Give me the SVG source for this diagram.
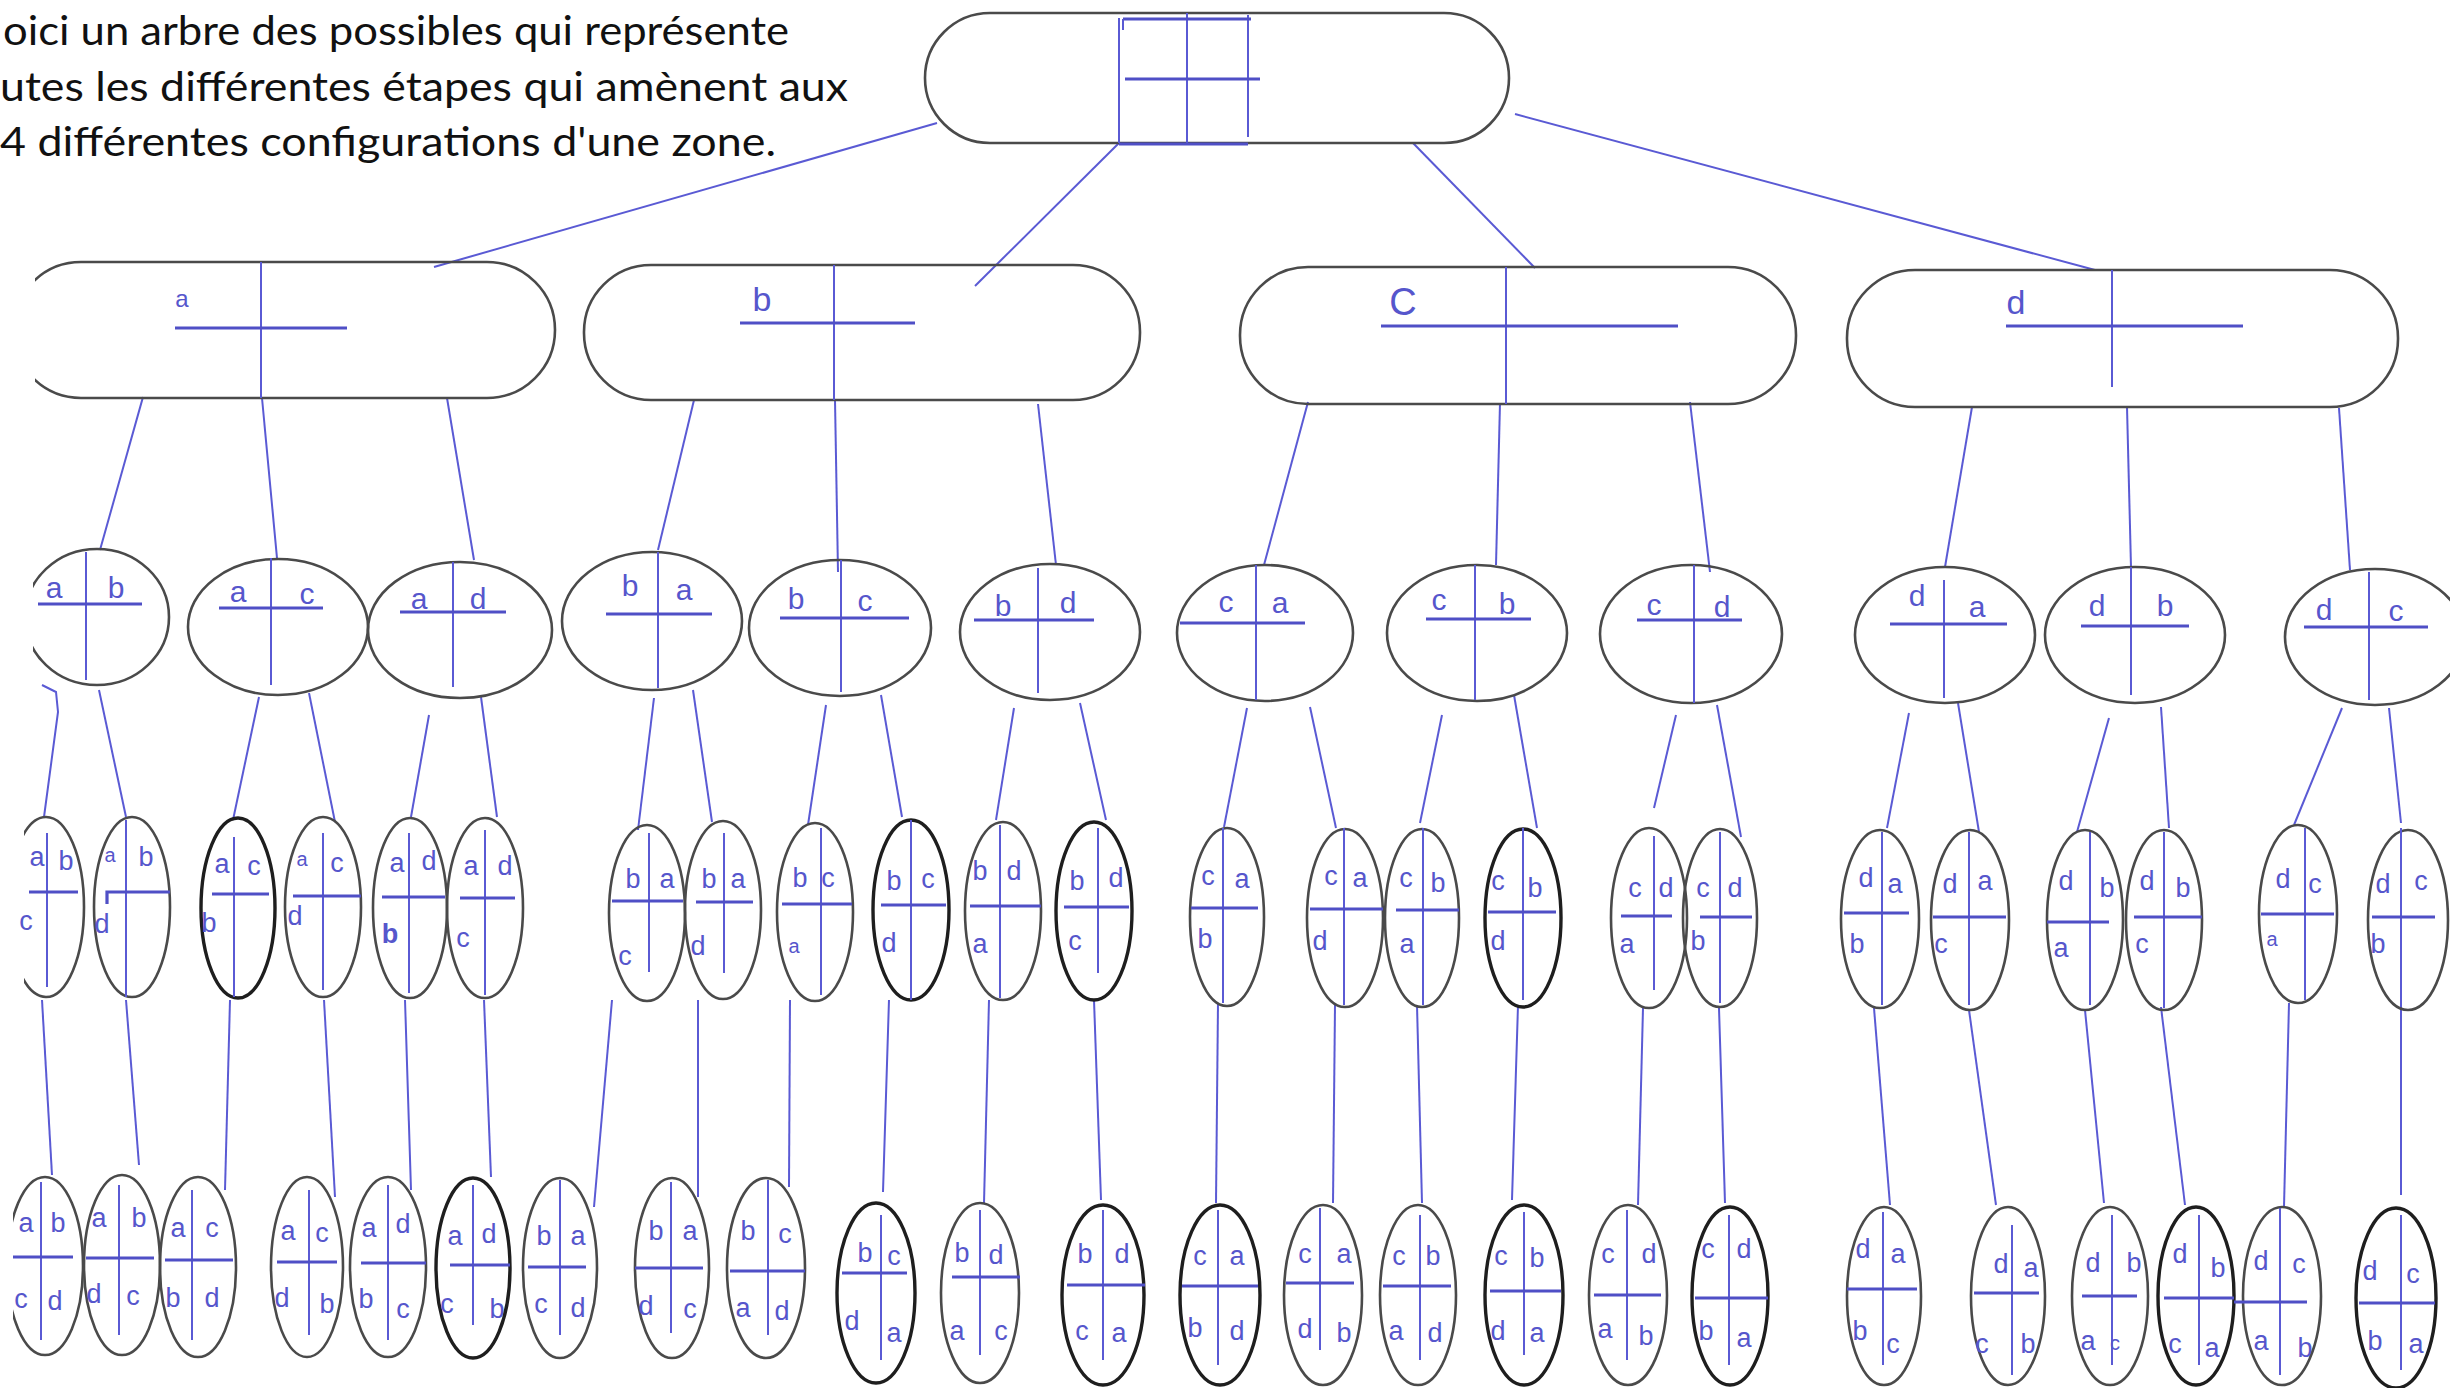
<svg xmlns="http://www.w3.org/2000/svg" width="2450" height="1388" viewBox="0 0 2450 1388">
<style>
.ol{fill:none;stroke:#4a4a4a;stroke-width:2.6}
.olk{fill:none;stroke:#1e1e1e;stroke-width:3.4}
.bl{fill:none;stroke:#5a5ad4;stroke-width:2}
.bh{fill:none;stroke:#4f4fc6;stroke-width:3.2}
#connectors line,#connectors polyline{stroke:#5a5ad4;stroke-width:2;fill:none}
.t{font-family:"Liberation Sans",Arial,sans-serif;fill:#5656cc;text-anchor:middle}
.t1{font-size:34px}
.t2{font-size:30px}
.t3{font-size:27px}
.hd{font-family:Lato,"Open Sans",sans-serif;font-size:40px;fill:#111}
</style>
<defs>
<clipPath id="clipA"><rect x="35" y="0" width="2415" height="1388"/></clipPath>
<clipPath id="clipB"><rect x="33" y="0" width="2415" height="1388"/></clipPath>
<clipPath id="clipC"><rect x="24" y="0" width="2415" height="1388"/></clipPath>
<clipPath id="clipD"><rect x="13" y="0" width="2415" height="1388"/></clipPath>
</defs>
<rect width="2450" height="1388" fill="#fff"/>

<g id="caption">
<text class="hd" x="3" y="45" textLength="786" lengthAdjust="spacingAndGlyphs">oici un arbre des possibles qui représente</text>
<text class="hd" x="0" y="101" textLength="848" lengthAdjust="spacingAndGlyphs">utes les différentes étapes qui amènent aux</text>
<text class="hd" x="0" y="156" textLength="776" lengthAdjust="spacingAndGlyphs">4 différentes configurations d'une zone.</text>
</g>

<g id="connectors">
<line x1="937" y1="123" x2="434" y2="267"/>
<line x1="1119" y1="143" x2="975" y2="286"/>
<line x1="1413" y1="143" x2="1535" y2="268"/>
<line x1="1515" y1="114" x2="2095" y2="270"/>

<line x1="143" y1="397" x2="100" y2="550"/>
<line x1="262" y1="398" x2="277" y2="558"/>
<line x1="447" y1="398" x2="474" y2="560"/>
<line x1="694" y1="400" x2="658" y2="550"/>
<line x1="835" y1="400" x2="838" y2="572"/>
<line x1="1038" y1="404" x2="1056" y2="565"/>
<line x1="1308" y1="402" x2="1264" y2="565"/>
<line x1="1500" y1="403" x2="1496" y2="565"/>
<line x1="1690" y1="402" x2="1710" y2="572"/>
<line x1="1972" y1="407" x2="1945" y2="567"/>
<line x1="2127" y1="407" x2="2131" y2="567"/>
<line x1="2339" y1="408" x2="2350" y2="570"/>

<polyline points="42,685 56,692 58,712 44,817"/>
<line x1="99" y1="690" x2="126" y2="817"/>
<line x1="259" y1="697" x2="233" y2="820"/>
<line x1="309" y1="693" x2="335" y2="822"/>
<line x1="429" y1="715" x2="411" y2="817"/>
<line x1="481" y1="697" x2="497" y2="817"/>
<line x1="654" y1="698" x2="638" y2="830"/>
<line x1="693" y1="690" x2="712" y2="822"/>
<line x1="826" y1="705" x2="808" y2="825"/>
<line x1="881" y1="695" x2="902" y2="817"/>
<line x1="1014" y1="708" x2="996" y2="820"/>
<line x1="1080" y1="703" x2="1106" y2="820"/>
<line x1="1247" y1="708" x2="1224" y2="827"/>
<line x1="1310" y1="707" x2="1336" y2="828"/>
<line x1="1442" y1="715" x2="1420" y2="823"/>
<line x1="1514" y1="695" x2="1537" y2="828"/>
<line x1="1676" y1="715" x2="1654" y2="808"/>
<line x1="1717" y1="705" x2="1741" y2="837"/>
<line x1="1909" y1="713" x2="1887" y2="828"/>
<line x1="1958" y1="703" x2="1979" y2="832"/>
<line x1="2109" y1="718" x2="2077" y2="832"/>
<line x1="2161" y1="707" x2="2169" y2="828"/>
<line x1="2342" y1="708" x2="2294" y2="825"/>
<line x1="2389" y1="708" x2="2401" y2="823"/>

<line x1="42" y1="1000" x2="52" y2="1175"/>
<line x1="126" y1="1000" x2="139" y2="1165"/>
<line x1="230" y1="1000" x2="225" y2="1190"/>
<line x1="324" y1="1000" x2="335" y2="1197"/>
<line x1="405" y1="1000" x2="411" y2="1190"/>
<line x1="484" y1="1000" x2="491" y2="1177"/>
<line x1="612" y1="1000" x2="594" y2="1207"/>
<line x1="698" y1="1000" x2="698" y2="1197"/>
<line x1="790" y1="1000" x2="789" y2="1187"/>
<line x1="889" y1="1000" x2="883" y2="1192"/>
<line x1="989" y1="1000" x2="984" y2="1203"/>
<line x1="1094" y1="1000" x2="1101" y2="1200"/>
<line x1="1218" y1="1003" x2="1216" y2="1203"/>
<line x1="1335" y1="1005" x2="1333" y2="1203"/>
<line x1="1417" y1="1005" x2="1422" y2="1203"/>
<line x1="1518" y1="1005" x2="1512" y2="1200"/>
<line x1="1643" y1="1008" x2="1638" y2="1205"/>
<line x1="1719" y1="1008" x2="1725" y2="1203"/>
<line x1="1874" y1="1008" x2="1890" y2="1205"/>
<line x1="1969" y1="1010" x2="1996" y2="1205"/>
<line x1="2085" y1="1010" x2="2104" y2="1203"/>
<line x1="2161" y1="1007" x2="2185" y2="1205"/>
<line x1="2289" y1="1003" x2="2284" y2="1207"/>
<line x1="2401" y1="1005" x2="2401" y2="1195"/>
</g>

<g id="root">
<rect class="ol" x="925" y="13" width="584" height="130" rx="65"/>
<line class="bl" x1="1119" y1="18" x2="1119" y2="143"/>
<line class="bl" x1="1187" y1="13" x2="1187" y2="143"/>
<line class="bl" x1="1248" y1="15" x2="1248" y2="137"/>
<line class="bh" x1="1123" y1="19" x2="1251" y2="19"/>
<line class="bh" x1="1125" y1="79" x2="1260" y2="79"/>
<line class="bh" x1="1119" y1="144" x2="1248" y2="144"/>
<line class="bl" x1="1123" y1="19" x2="1123" y2="30"/>
</g>

<g id="n1-a">
<rect class="ol" x="13" y="262" width="542" height="136" rx="68" clip-path="url(#clipA)"/>
<line class="bl" x1="261" y1="262" x2="261" y2="398"/>
<line class="bh" x1="175" y1="328" x2="347" y2="328"/>
<text class="t" x="182" y="307" font-size="24">a</text>
</g>
<g id="n1-b">
<rect class="ol" x="584" y="265" width="556" height="135" rx="67"/>
<line class="bl" x1="834" y1="265" x2="834" y2="400"/>
<line class="bh" x1="740" y1="323" x2="915" y2="323"/>
<text class="t t1" x="762" y="311">b</text>
</g>
<g id="n1-c">
<rect class="ol" x="1240" y="267" width="556" height="137" rx="68"/>
<line class="bl" x1="1506" y1="267" x2="1506" y2="404"/>
<line class="bh" x1="1381" y1="326" x2="1678" y2="326"/>
<text class="t" x="1403" y="315" font-size="38">C</text>
</g>
<g id="n1-d">
<rect class="ol" x="1847" y="270" width="551" height="137" rx="68"/>
<line class="bl" x1="2112" y1="270" x2="2112" y2="387"/>
<line class="bh" x1="2006" y1="326" x2="2243" y2="326"/>
<text class="t t1" x="2016" y="314">d</text>
</g>

<g id="n2-ab">
<ellipse class="ol" cx="97" cy="617" rx="72" ry="68" clip-path="url(#clipB)"/>
<line class="bl" x1="86" y1="552" x2="86" y2="680"/>
<line class="bh" x1="38" y1="604" x2="142" y2="604"/>
<text class="t t2" x="54" y="598">a</text><text class="t t2" x="116" y="598">b</text>
</g>
<g id="n2-ac">
<ellipse class="ol" cx="278" cy="627" rx="90" ry="68"/>
<line class="bl" x1="271" y1="558" x2="271" y2="685"/>
<line class="bh" x1="219" y1="608" x2="323" y2="608"/>
<text class="t t2" x="238" y="602">a</text><text class="t t2" x="307" y="604">c</text>
</g>
<g id="n2-ad">
<ellipse class="ol" cx="460" cy="630" rx="92" ry="68"/>
<line class="bl" x1="453" y1="562" x2="453" y2="687"/>
<line class="bh" x1="400" y1="612" x2="506" y2="612"/>
<text class="t t2" x="419" y="609">a</text><text class="t t2" x="478" y="609">d</text>
</g>
<g id="n2-ba">
<ellipse class="ol" cx="652" cy="621" rx="90" ry="69"/>
<line class="bl" x1="658" y1="552" x2="658" y2="688"/>
<line class="bh" x1="606" y1="614" x2="712" y2="614"/>
<text class="t t2" x="630" y="596">b</text><text class="t t2" x="684" y="600">a</text>
</g>
<g id="n2-bc">
<ellipse class="ol" cx="840" cy="628" rx="91" ry="68"/>
<line class="bl" x1="841" y1="560" x2="841" y2="692"/>
<line class="bh" x1="780" y1="618" x2="909" y2="618"/>
<text class="t t2" x="796" y="609">b</text><text class="t t2" x="865" y="611">c</text>
</g>
<g id="n2-bd">
<ellipse class="ol" cx="1050" cy="632" rx="90" ry="68"/>
<line class="bl" x1="1038" y1="568" x2="1038" y2="693"/>
<line class="bh" x1="974" y1="620" x2="1094" y2="620"/>
<text class="t t2" x="1003" y="616">b</text><text class="t t2" x="1068" y="613">d</text>
</g>
<g id="n2-ca">
<ellipse class="ol" cx="1265" cy="633" rx="88" ry="68"/>
<line class="bl" x1="1256" y1="565" x2="1256" y2="700"/>
<line class="bh" x1="1180" y1="623" x2="1305" y2="623"/>
<text class="t t2" x="1226" y="612">c</text><text class="t t2" x="1280" y="613">a</text>
</g>
<g id="n2-cb">
<ellipse class="ol" cx="1477" cy="633" rx="90" ry="68"/>
<line class="bl" x1="1475" y1="565" x2="1475" y2="700"/>
<line class="bh" x1="1426" y1="619" x2="1531" y2="619"/>
<text class="t t2" x="1439" y="610">c</text><text class="t t2" x="1507" y="614">b</text>
</g>
<g id="n2-cd">
<ellipse class="ol" cx="1691" cy="634" rx="91" ry="69"/>
<line class="bl" x1="1694" y1="565" x2="1694" y2="703"/>
<line class="bh" x1="1637" y1="620" x2="1742" y2="620"/>
<text class="t t2" x="1654" y="615">c</text><text class="t t2" x="1722" y="617">d</text>
</g>
<g id="n2-da">
<ellipse class="ol" cx="1945" cy="635" rx="90" ry="68"/>
<line class="bl" x1="1944" y1="580" x2="1944" y2="698"/>
<line class="bh" x1="1890" y1="624" x2="2007" y2="624"/>
<text class="t t2" x="1917" y="606">d</text><text class="t t2" x="1977" y="617">a</text>
</g>
<g id="n2-db">
<ellipse class="ol" cx="2135" cy="635" rx="90" ry="68"/>
<line class="bl" x1="2131" y1="567" x2="2131" y2="695"/>
<line class="bh" x1="2081" y1="626" x2="2189" y2="626"/>
<text class="t t2" x="2097" y="616">d</text><text class="t t2" x="2165" y="616">b</text>
</g>
<g id="n2-dc">
<ellipse class="ol" cx="2375" cy="637" rx="90" ry="68"/>
<line class="bl" x1="2369" y1="572" x2="2369" y2="700"/>
<line class="bh" x1="2304" y1="627" x2="2428" y2="627"/>
<text class="t t2" x="2324" y="620">d</text><text class="t t2" x="2396" y="621">c</text>
</g>

<g id="n3-ab-c">
<ellipse class="ol" cx="46" cy="907" rx="38" ry="90" clip-path="url(#clipC)"/>
<line class="bl" x1="47" y1="833" x2="47" y2="987"/>
<line class="bh" x1="29" y1="892" x2="78" y2="892"/>
<text class="t t3" x="37" y="866">a</text><text class="t t3" x="66" y="870">b</text><text class="t t3" x="26" y="930">c</text>
</g>
<g id="n3-ab-d">
<ellipse class="ol" cx="132" cy="907" rx="38" ry="90"/>
<line class="bl" x1="126" y1="820" x2="126" y2="997"/>
<path class="bh" d="M107,904 V892 H170"/>
<text class="t" x="110" y="862" font-size="20">a</text><text class="t t3" x="146" y="866">b</text><text class="t t3" x="102" y="933">d</text>
</g>
<g id="n3-ac-b">
<ellipse class="olk" cx="238" cy="908" rx="37" ry="90"/>
<line class="bl" x1="234" y1="837" x2="234" y2="997"/>
<line class="bh" x1="212" y1="894" x2="269" y2="894"/>
<text class="t t3" x="222" y="873">a</text><text class="t t3" x="254" y="875">c</text><text class="t t3" x="209" y="932">b</text>
</g>
<g id="n3-ac-d">
<ellipse class="ol" cx="323" cy="907" rx="38" ry="90"/>
<line class="bl" x1="323" y1="833" x2="323" y2="990"/>
<line class="bh" x1="293" y1="896" x2="361" y2="896"/>
<text class="t" x="302" y="866" font-size="20">a</text><text class="t t3" x="337" y="872">c</text><text class="t t3" x="295" y="925">d</text>
</g>
<g id="n3-ad-b">
<ellipse class="ol" cx="410" cy="908" rx="37" ry="90"/>
<line class="bl" x1="409" y1="833" x2="409" y2="993"/>
<line class="bh" x1="382" y1="897" x2="445" y2="897"/>
<text class="t t3" x="397" y="872">a</text><text class="t t3" x="429" y="870">d</text><text class="t t3" x="390" y="943" font-weight="bold">b</text>
</g>
<g id="n3-ad-c">
<ellipse class="ol" cx="485" cy="908" rx="38" ry="90"/>
<line class="bl" x1="485" y1="830" x2="485" y2="995"/>
<line class="bh" x1="460" y1="898" x2="515" y2="898"/>
<text class="t t3" x="471" y="875">a</text><text class="t t3" x="505" y="875">d</text><text class="t t3" x="463" y="947">c</text>
</g>
<g id="n3-ba-c">
<ellipse class="ol" cx="647" cy="913" rx="38" ry="88"/>
<line class="bl" x1="649" y1="833" x2="649" y2="972"/>
<line class="bh" x1="612" y1="901" x2="683" y2="901"/>
<text class="t t3" x="633" y="888">b</text><text class="t t3" x="667" y="888">a</text><text class="t t3" x="625" y="965">c</text>
</g>
<g id="n3-ba-d">
<ellipse class="ol" cx="723" cy="910" rx="38" ry="89"/>
<line class="bl" x1="724" y1="833" x2="724" y2="973"/>
<line class="bh" x1="696" y1="902" x2="753" y2="902"/>
<text class="t t3" x="709" y="888">b</text><text class="t t3" x="738" y="888">a</text><text class="t t3" x="698" y="955">d</text>
</g>
<g id="n3-bc-a">
<ellipse class="ol" cx="815" cy="912" rx="38" ry="89"/>
<line class="bl" x1="821" y1="828" x2="821" y2="995"/>
<line class="bh" x1="782" y1="904" x2="852" y2="904"/>
<text class="t t3" x="800" y="887">b</text><text class="t t3" x="828" y="887">c</text><text class="t" x="794" y="953" font-size="20">a</text>
</g>
<g id="n3-bc-d">
<ellipse class="olk" cx="911" cy="910" rx="38" ry="90"/>
<line class="bl" x1="911" y1="820" x2="911" y2="1000"/>
<line class="bh" x1="881" y1="905" x2="946" y2="905"/>
<text class="t t3" x="894" y="890">b</text><text class="t t3" x="928" y="888">c</text><text class="t t3" x="889" y="952">d</text>
</g>
<g id="n3-bd-a">
<ellipse class="ol" cx="1003" cy="911" rx="38" ry="89"/>
<line class="bl" x1="1000" y1="825" x2="1000" y2="998"/>
<line class="bh" x1="970" y1="906" x2="1041" y2="906"/>
<text class="t t3" x="980" y="880">b</text><text class="t t3" x="1014" y="880">d</text><text class="t t3" x="980" y="953">a</text>
</g>
<g id="n3-bd-c">
<ellipse class="olk" cx="1094" cy="911" rx="38" ry="89"/>
<line class="bl" x1="1098" y1="828" x2="1098" y2="973"/>
<line class="bh" x1="1064" y1="907" x2="1129" y2="907"/>
<text class="t t3" x="1077" y="890">b</text><text class="t t3" x="1116" y="887">d</text><text class="t t3" x="1075" y="950">c</text>
</g>
<g id="n3-ca-b">
<ellipse class="ol" cx="1227" cy="917" rx="37" ry="89"/>
<line class="bl" x1="1223" y1="828" x2="1223" y2="1003"/>
<line class="bh" x1="1191" y1="908" x2="1258" y2="908"/>
<text class="t t3" x="1208" y="885">c</text><text class="t t3" x="1242" y="888">a</text><text class="t t3" x="1205" y="948">b</text>
</g>
<g id="n3-ca-d">
<ellipse class="ol" cx="1345" cy="918" rx="38" ry="89"/>
<line class="bl" x1="1344" y1="828" x2="1344" y2="1005"/>
<line class="bh" x1="1310" y1="909" x2="1383" y2="909"/>
<text class="t t3" x="1331" y="885">c</text><text class="t t3" x="1360" y="887">a</text><text class="t t3" x="1320" y="950">d</text>
</g>
<g id="n3-cb-a">
<ellipse class="ol" cx="1422" cy="918" rx="37" ry="89"/>
<line class="bl" x1="1423" y1="828" x2="1423" y2="1005"/>
<line class="bh" x1="1396" y1="910" x2="1459" y2="910"/>
<text class="t t3" x="1406" y="887">c</text><text class="t t3" x="1438" y="892">b</text><text class="t t3" x="1407" y="953">a</text>
</g>
<g id="n3-cb-d">
<ellipse class="olk" cx="1523" cy="918" rx="38" ry="89"/>
<line class="bl" x1="1523" y1="828" x2="1523" y2="1000"/>
<line class="bh" x1="1488" y1="912" x2="1556" y2="912"/>
<text class="t t3" x="1498" y="890">c</text><text class="t t3" x="1535" y="897">b</text><text class="t t3" x="1498" y="950">d</text>
</g>
<g id="n3-cd-a">
<ellipse class="ol" cx="1649" cy="918" rx="38" ry="90"/>
<line class="bl" x1="1654" y1="836" x2="1654" y2="990"/>
<line class="bh" x1="1621" y1="916" x2="1672" y2="916"/>
<text class="t t3" x="1635" y="897">c</text><text class="t t3" x="1666" y="897">d</text><text class="t t3" x="1627" y="953">a</text>
</g>
<g id="n3-cd-b">
<ellipse class="ol" cx="1720" cy="918" rx="37" ry="89"/>
<line class="bl" x1="1720" y1="832" x2="1720" y2="1003"/>
<line class="bh" x1="1700" y1="917" x2="1752" y2="917"/>
<text class="t t3" x="1703" y="897">c</text><text class="t t3" x="1735" y="897">d</text><text class="t t3" x="1698" y="950">b</text>
</g>
<g id="n3-da-b">
<ellipse class="ol" cx="1880" cy="919" rx="39" ry="89"/>
<line class="bl" x1="1882" y1="832" x2="1882" y2="1005"/>
<line class="bh" x1="1844" y1="913" x2="1909" y2="913"/>
<text class="t t3" x="1866" y="887">d</text><text class="t t3" x="1895" y="893">a</text><text class="t t3" x="1857" y="953">b</text>
</g>
<g id="n3-da-c">
<ellipse class="ol" cx="1970" cy="920" rx="39" ry="90"/>
<line class="bl" x1="1969" y1="832" x2="1969" y2="1005"/>
<line class="bh" x1="1933" y1="917" x2="2006" y2="917"/>
<text class="t t3" x="1950" y="893">d</text><text class="t t3" x="1985" y="890">a</text><text class="t t3" x="1941" y="953">c</text>
</g>
<g id="n3-db-a">
<ellipse class="ol" cx="2085" cy="920" rx="38" ry="90"/>
<line class="bl" x1="2090" y1="832" x2="2090" y2="1005"/>
<line class="bh" x1="2047" y1="922" x2="2109" y2="922"/>
<text class="t t3" x="2066" y="890">d</text><text class="t t3" x="2107" y="897">b</text><text class="t t3" x="2061" y="957">a</text>
</g>
<g id="n3-db-c">
<ellipse class="ol" cx="2164" cy="920" rx="38" ry="90"/>
<line class="bl" x1="2164" y1="832" x2="2164" y2="1008"/>
<line class="bh" x1="2134" y1="917" x2="2202" y2="917"/>
<text class="t t3" x="2147" y="890">d</text><text class="t t3" x="2183" y="897">b</text><text class="t t3" x="2142" y="953">c</text>
</g>
<g id="n3-dc-a">
<ellipse class="ol" cx="2298" cy="914" rx="39" ry="89"/>
<line class="bl" x1="2305" y1="828" x2="2305" y2="1000"/>
<line class="bh" x1="2261" y1="914" x2="2334" y2="914"/>
<text class="t t3" x="2283" y="888">d</text><text class="t t3" x="2315" y="893">c</text><text class="t" x="2272" y="946" font-size="20">a</text>
</g>
<g id="n3-dc-b">
<ellipse class="ol" cx="2408" cy="920" rx="40" ry="90"/>
<line class="bl" x1="2401" y1="828" x2="2401" y2="1005"/>
<line class="bh" x1="2372" y1="917" x2="2435" y2="917"/>
<text class="t t3" x="2383" y="893">d</text><text class="t t3" x="2421" y="890">c</text><text class="t t3" x="2378" y="953">b</text>
</g>

<g id="n4-ab-cd">
<ellipse class="ol" cx="45" cy="1266" rx="38" ry="89" clip-path="url(#clipD)"/>
<line class="bl" x1="41" y1="1182" x2="41" y2="1340"/>
<line class="bh" x1="13" y1="1257" x2="73" y2="1257"/>
<text class="t t3" x="26" y="1232">a</text><text class="t t3" x="58" y="1232">b</text><text class="t t3" x="21" y="1308">c</text><text class="t t3" x="55" y="1310">d</text>
</g>
<g id="n4-ab-dc">
<ellipse class="ol" cx="122" cy="1265" rx="38" ry="90"/>
<line class="bl" x1="119" y1="1185" x2="119" y2="1335"/>
<line class="bh" x1="86" y1="1258" x2="154" y2="1258"/>
<text class="t t3" x="99" y="1227">a</text><text class="t t3" x="139" y="1227">b</text><text class="t t3" x="94" y="1303">d</text><text class="t t3" x="133" y="1305">c</text>
</g>
<g id="n4-ac-bd">
<ellipse class="ol" cx="198" cy="1267" rx="38" ry="90"/>
<line class="bl" x1="192" y1="1190" x2="192" y2="1340"/>
<line class="bh" x1="165" y1="1260" x2="233" y2="1260"/>
<text class="t t3" x="178" y="1237">a</text><text class="t t3" x="212" y="1237">c</text><text class="t t3" x="173" y="1307">b</text><text class="t t3" x="212" y="1307">d</text>
</g>
<g id="n4-ac-db">
<ellipse class="ol" cx="307" cy="1267" rx="36" ry="90"/>
<line class="bl" x1="309" y1="1190" x2="309" y2="1335"/>
<line class="bh" x1="277" y1="1262" x2="337" y2="1262"/>
<text class="t t3" x="288" y="1240">a</text><text class="t t3" x="322" y="1242">c</text><text class="t t3" x="282" y="1307">d</text><text class="t t3" x="327" y="1313">b</text>
</g>
<g id="n4-ad-bc">
<ellipse class="ol" cx="388" cy="1267" rx="38" ry="90"/>
<line class="bl" x1="388" y1="1185" x2="388" y2="1340"/>
<line class="bh" x1="361" y1="1263" x2="426" y2="1263"/>
<text class="t t3" x="369" y="1237">a</text><text class="t t3" x="403" y="1233">d</text><text class="t t3" x="366" y="1308">b</text><text class="t t3" x="403" y="1318">c</text>
</g>
<g id="n4-ad-cb">
<ellipse class="olk" cx="473" cy="1268" rx="37" ry="90"/>
<line class="bl" x1="473" y1="1185" x2="473" y2="1325"/>
<line class="bh" x1="450" y1="1265" x2="510" y2="1265"/>
<text class="t t3" x="455" y="1245">a</text><text class="t t3" x="489" y="1243">d</text><text class="t t3" x="447" y="1313">c</text><text class="t t3" x="497" y="1318">b</text>
</g>
<g id="n4-ba-cd">
<ellipse class="ol" cx="560" cy="1268" rx="37" ry="90"/>
<line class="bl" x1="560" y1="1180" x2="560" y2="1335"/>
<line class="bh" x1="528" y1="1267" x2="586" y2="1267"/>
<text class="t t3" x="544" y="1245">b</text><text class="t t3" x="578" y="1245">a</text><text class="t t3" x="541" y="1313">c</text><text class="t t3" x="578" y="1317">d</text>
</g>
<g id="n4-ba-dc">
<ellipse class="ol" cx="672" cy="1268" rx="37" ry="90"/>
<line class="bl" x1="671" y1="1182" x2="671" y2="1333"/>
<line class="bh" x1="635" y1="1268" x2="703" y2="1268"/>
<text class="t t3" x="656" y="1240">b</text><text class="t t3" x="690" y="1240">a</text><text class="t t3" x="646" y="1315">d</text><text class="t t3" x="690" y="1318">c</text>
</g>
<g id="n4-bc-ad">
<ellipse class="ol" cx="766" cy="1268" rx="39" ry="90"/>
<line class="bl" x1="768" y1="1180" x2="768" y2="1335"/>
<line class="bh" x1="730" y1="1271" x2="805" y2="1271"/>
<text class="t t3" x="748" y="1240">b</text><text class="t t3" x="785" y="1243">c</text><text class="t t3" x="743" y="1317">a</text><text class="t t3" x="782" y="1320">d</text>
</g>
<g id="n4-bc-da">
<ellipse class="olk" cx="876" cy="1293" rx="39" ry="90"/>
<line class="bl" x1="881" y1="1215" x2="881" y2="1360"/>
<line class="bh" x1="842" y1="1273" x2="907" y2="1273"/>
<text class="t t3" x="865" y="1262">b</text><text class="t t3" x="894" y="1265">c</text><text class="t t3" x="852" y="1330">d</text><text class="t t3" x="894" y="1342">a</text>
</g>
<g id="n4-bd-ac">
<ellipse class="ol" cx="980" cy="1293" rx="39" ry="90"/>
<line class="bl" x1="980" y1="1210" x2="980" y2="1355"/>
<line class="bh" x1="952" y1="1277" x2="1020" y2="1277"/>
<text class="t t3" x="962" y="1262">b</text><text class="t t3" x="996" y="1264">d</text><text class="t t3" x="957" y="1340">a</text><text class="t t3" x="1001" y="1340">c</text>
</g>
<g id="n4-bd-ca">
<ellipse class="olk" cx="1103" cy="1295" rx="41" ry="90"/>
<line class="bl" x1="1103" y1="1210" x2="1103" y2="1360"/>
<line class="bh" x1="1067" y1="1285" x2="1145" y2="1285"/>
<text class="t t3" x="1085" y="1263">b</text><text class="t t3" x="1122" y="1263">d</text><text class="t t3" x="1082" y="1340">c</text><text class="t t3" x="1119" y="1342">a</text>
</g>
<g id="n4-ca-bd">
<ellipse class="olk" cx="1220" cy="1295" rx="40" ry="90"/>
<line class="bl" x1="1218" y1="1210" x2="1218" y2="1365"/>
<line class="bh" x1="1182" y1="1286" x2="1258" y2="1286"/>
<text class="t t3" x="1200" y="1265">c</text><text class="t t3" x="1237" y="1265">a</text><text class="t t3" x="1195" y="1337">b</text><text class="t t3" x="1237" y="1340">d</text>
</g>
<g id="n4-ca-db">
<ellipse class="ol" cx="1323" cy="1295" rx="39" ry="90"/>
<line class="bl" x1="1320" y1="1208" x2="1320" y2="1350"/>
<line class="bh" x1="1286" y1="1283" x2="1354" y2="1283"/>
<text class="t t3" x="1305" y="1263">c</text><text class="t t3" x="1344" y="1263">a</text><text class="t t3" x="1305" y="1338">d</text><text class="t t3" x="1344" y="1342">b</text>
</g>
<g id="n4-cb-ad">
<ellipse class="ol" cx="1418" cy="1295" rx="38" ry="90"/>
<line class="bl" x1="1420" y1="1215" x2="1420" y2="1360"/>
<line class="bh" x1="1383" y1="1286" x2="1451" y2="1286"/>
<text class="t t3" x="1399" y="1265">c</text><text class="t t3" x="1433" y="1265">b</text><text class="t t3" x="1396" y="1340">a</text><text class="t t3" x="1435" y="1342">d</text>
</g>
<g id="n4-cb-da">
<ellipse class="olk" cx="1524" cy="1295" rx="39" ry="90"/>
<line class="bl" x1="1524" y1="1212" x2="1524" y2="1355"/>
<line class="bh" x1="1490" y1="1291" x2="1561" y2="1291"/>
<text class="t t3" x="1501" y="1265">c</text><text class="t t3" x="1537" y="1267">b</text><text class="t t3" x="1498" y="1340">d</text><text class="t t3" x="1537" y="1342">a</text>
</g>
<g id="n4-cd-ab">
<ellipse class="ol" cx="1628" cy="1295" rx="39" ry="90"/>
<line class="bl" x1="1627" y1="1210" x2="1627" y2="1360"/>
<line class="bh" x1="1594" y1="1295" x2="1661" y2="1295"/>
<text class="t t3" x="1608" y="1263">c</text><text class="t t3" x="1649" y="1263">d</text><text class="t t3" x="1605" y="1338">a</text><text class="t t3" x="1646" y="1345">b</text>
</g>
<g id="n4-cd-ba">
<ellipse class="olk" cx="1730" cy="1296" rx="38" ry="89"/>
<line class="bl" x1="1729" y1="1215" x2="1729" y2="1365"/>
<line class="bh" x1="1695" y1="1298" x2="1768" y2="1298"/>
<text class="t t3" x="1708" y="1258">c</text><text class="t t3" x="1744" y="1258">d</text><text class="t t3" x="1706" y="1340">b</text><text class="t t3" x="1744" y="1347">a</text>
</g>
<g id="n4-da-bc">
<ellipse class="ol" cx="1884" cy="1296" rx="37" ry="89"/>
<line class="bl" x1="1883" y1="1212" x2="1883" y2="1365"/>
<line class="bh" x1="1847" y1="1289" x2="1917" y2="1289"/>
<text class="t t3" x="1863" y="1258">d</text><text class="t t3" x="1898" y="1263">a</text><text class="t t3" x="1860" y="1340">b</text><text class="t t3" x="1893" y="1353">c</text>
</g>
<g id="n4-da-cb">
<ellipse class="ol" cx="2008" cy="1296" rx="37" ry="89"/>
<line class="bl" x1="2012" y1="1225" x2="2012" y2="1375"/>
<line class="bh" x1="1974" y1="1293" x2="2039" y2="1293"/>
<text class="t t3" x="2001" y="1273">d</text><text class="t t3" x="2031" y="1277">a</text><text class="t t3" x="1982" y="1353">c</text><text class="t t3" x="2028" y="1353">b</text>
</g>
<g id="n4-db-ac">
<ellipse class="ol" cx="2110" cy="1296" rx="38" ry="89"/>
<line class="bl" x1="2112" y1="1215" x2="2112" y2="1365"/>
<line class="bh" x1="2082" y1="1296" x2="2137" y2="1296"/>
<text class="t t3" x="2093" y="1272">d</text><text class="t t3" x="2134" y="1272">b</text><text class="t t3" x="2088" y="1350">a</text><text class="t" x="2115" y="1350" font-size="20">c</text>
</g>
<g id="n4-db-ca">
<ellipse class="olk" cx="2196" cy="1296" rx="38" ry="89"/>
<line class="bl" x1="2199" y1="1215" x2="2199" y2="1365"/>
<line class="bh" x1="2164" y1="1298" x2="2234" y2="1298"/>
<text class="t t3" x="2180" y="1263">d</text><text class="t t3" x="2218" y="1277">b</text><text class="t t3" x="2175" y="1353">c</text><text class="t t3" x="2212" y="1357">a</text>
</g>
<g id="n4-dc-ab">
<ellipse class="ol" cx="2282" cy="1296" rx="39" ry="89"/>
<line class="bl" x1="2280" y1="1208" x2="2280" y2="1375"/>
<line class="bh" x1="2234" y1="1302" x2="2307" y2="1302"/>
<text class="t t3" x="2261" y="1270">d</text><text class="t t3" x="2299" y="1273">c</text><text class="t t3" x="2261" y="1350">a</text><text class="t t3" x="2305" y="1357">b</text>
</g>
<g id="n4-dc-ba">
<ellipse class="olk" cx="2396" cy="1298" rx="40" ry="90"/>
<line class="bl" x1="2401" y1="1215" x2="2401" y2="1370"/>
<line class="bh" x1="2359" y1="1303" x2="2435" y2="1303"/>
<text class="t t3" x="2370" y="1280">d</text><text class="t t3" x="2413" y="1283">c</text><text class="t t3" x="2375" y="1350">b</text><text class="t t3" x="2416" y="1353">a</text>
</g>
</svg>
